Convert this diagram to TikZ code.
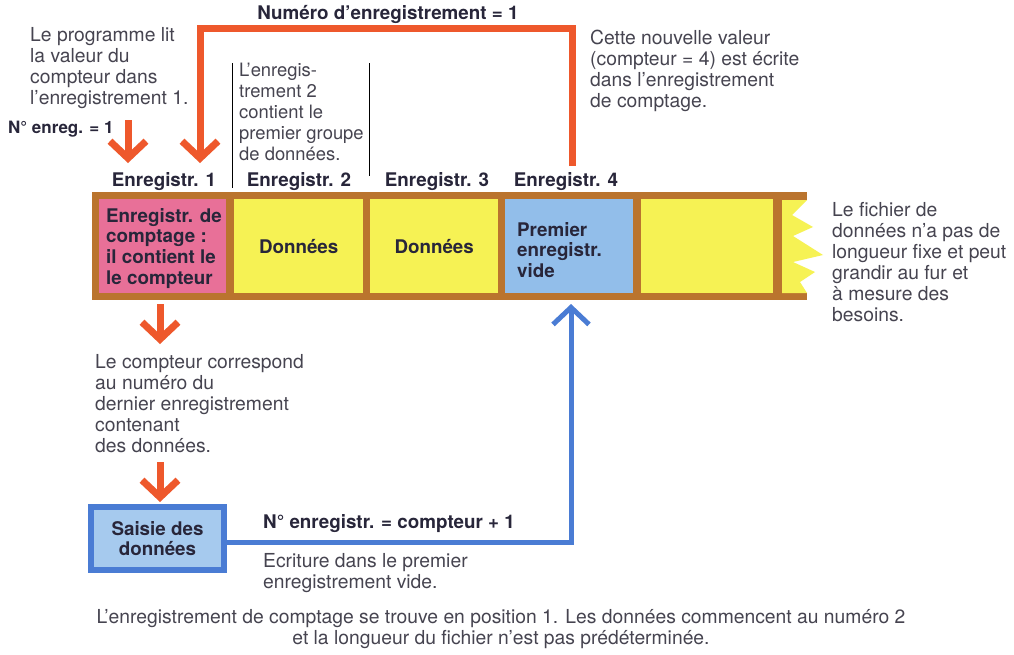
\documentclass[tikz,border=0pt]{standalone}
\usepackage{fontspec}
\setmainfont{TeX Gyre Heros}
\usetikzlibrary{arrows.meta}
\definecolor{orng}{RGB}{238,88,44}
\definecolor{brn}{RGB}{186,116,46}
\definecolor{pnk}{RGB}{232,112,152}
\definecolor{ylw}{RGB}{246,242,84}
\definecolor{bcell}{RGB}{146,190,234}
\definecolor{bline}{RGB}{74,124,212}
\definecolor{bfill}{RGB}{166,202,238}
\definecolor{txtg}{RGB}{70,68,80}
\definecolor{navy}{RGB}{40,38,58}
\definecolor{thin}{RGB}{150,150,160}
\begin{document}
\begin{tikzpicture}[x=1pt,y=-1pt,
  txt/.style={font=\fontsize{19.3}{21}\selectfont, text=txtg, align=left, inner sep=0, anchor=north west},
  lbl/.style={font=\fontsize{18.8}{20.7}\selectfont\bfseries, text=navy, inner sep=0},
  cell/.style={inner sep=0, draw=none},
  oarr/.style={draw=orng, line width=7pt, -{Straight Barb[length=17pt,width=36pt]}},
  barr/.style={draw=bline, line width=5pt, -{Straight Barb[length=17pt,width=36pt]}}]
\useasboundingbox (0,0) rectangle (1014,654);
\fill[white] (0,0) rectangle (1014,654);

% bar frame
\fill[brn] (92,192) rectangle (782,300);
\fill[brn] (782,192) rectangle (807,200);
\fill[brn] (782,293) rectangle (807,300);
\fill[ylw] (782,200) -- (807,200) -- (792,215) -- (813,227) -- (793,236) -- (823,255) -- (793,262) -- (815,272) -- (800,282) -- (807,293) -- (782,293) -- cycle;

% cells
\node[cell, fill=pnk, minimum width=127pt, minimum height=94pt, anchor=north west] (c1) at (99,199) {};
\node[cell, fill=ylw, minimum width=129pt, minimum height=94pt, anchor=north west] (c2) at (234,199) {};
\node[cell, fill=ylw, minimum width=128pt, minimum height=94pt, anchor=north west] (c3) at (370,199) {};
\node[cell, fill=bcell, minimum width=128pt, minimum height=94pt, anchor=north west] (c4) at (505,199) {};
\node[cell, fill=ylw, minimum width=132pt, minimum height=94pt, anchor=north west] (c5) at (641,199) {};

\node[lbl, align=left, anchor=north west] (t1) at (106,208) {Enregistr. de\\comptage :\\il contient le\\le compteur};
\node[lbl] (t2) at (c2.center) {Données};
\node[lbl] (t3) at (c3.center) {Données};
\node[lbl, align=left, anchor=north west] (t4) at (517,222) {Premier\\enregistr.\\vide};

% labels above
\node[lbl] (e1) at (164,182) {Enregistr. 1};
\node[lbl] (e2) at (299,182) {Enregistr. 2};
\node[lbl] (e3) at (437,182) {Enregistr. 3};
\node[lbl] (e4) at (566,182) {Enregistr. 4};

% thin separators
\coordinate (s1a) at (232,63); \coordinate (s1b) at (232,188);
\coordinate (s2a) at (369,63); \coordinate (s2b) at (369,176);
\draw[thin, line width=1pt] (s1a) -- (s1b);
\draw[thin, line width=1pt] (s2a) -- (s2b);

% texts
\node[txt] (p1) at (30,27) {Le programme lit\\la valeur du\\compteur dans\\l'enregistrement 1.};
\node[txt, font=\fontsize{18.4}{21}\selectfont] (p2) at (239,63) {L'enregis-\\trement 2\\contient le\\premier groupe\\de données.};
\node[txt] (p3) at (590,30) {Cette nouvelle valeur\\(compteur = 4) est écrite\\dans l'enregistrement\\de comptage.};
\node[txt] (p4) at (832,202) {Le fichier de\\données n'a pas de\\longueur fixe et peut\\grandir au fur et\\à mesure des\\besoins.};
\node[txt] (p5) at (95,354) {Le compteur correspond\\au numéro du\\dernier enregistrement\\contenant\\des données.};
\node[txt] (p6) at (263,553) {Ecriture dans le premier\\enregistrement vide.};
\node[txt, align=center, anchor=north] (cap) at (501,609) {L'enregistrement de comptage se trouve en position 1. Les données commencent au numéro 2\\et la longueur du fichier n'est pas prédéterminée.};

\node[lbl, anchor=west, font=\fontsize{17}{20}\selectfont\bfseries] (ne) at (8,129) {N° enreg. = 1};
\node[lbl] (num) at (388,14) {Numéro d'enregistrement = 1};
\node[lbl, anchor=west] (nc) at (263,524) {N° enregistr. = compteur + 1};

% saisie box
\node[draw=bline, line width=6pt, fill=bfill, minimum width=133pt, minimum height=63pt, align=center,
      font=\fontsize{18.8}{20.7}\selectfont\bfseries, text=navy] (sai) at (157.5,538.5) {Saisie des\\données};

% orange arrows
\coordinate (a1s) at (128,120); \coordinate (a1e) at (128,163);
\draw[oarr] (a1s) -- (a1e);
\coordinate (top4) at (572,166); \coordinate (a2e) at (200,163);
\draw[oarr] (top4) -- (572,28) -- (200,28) -- (a2e);
\coordinate (a3s) at (160,304); \coordinate (a3e) at (160,344);
\draw[oarr] (a3s) -- (a3e);
\coordinate (a4s) at (160,462); \coordinate (a4e) at (160,502);
\draw[oarr] (a4s) -- (a4e);

% blue arrow
\coordinate (b4) at (571,304);
\draw[barr] (sai.east |- 0,542) -- (571,542) -- (b4);
\end{tikzpicture}
\end{document}
